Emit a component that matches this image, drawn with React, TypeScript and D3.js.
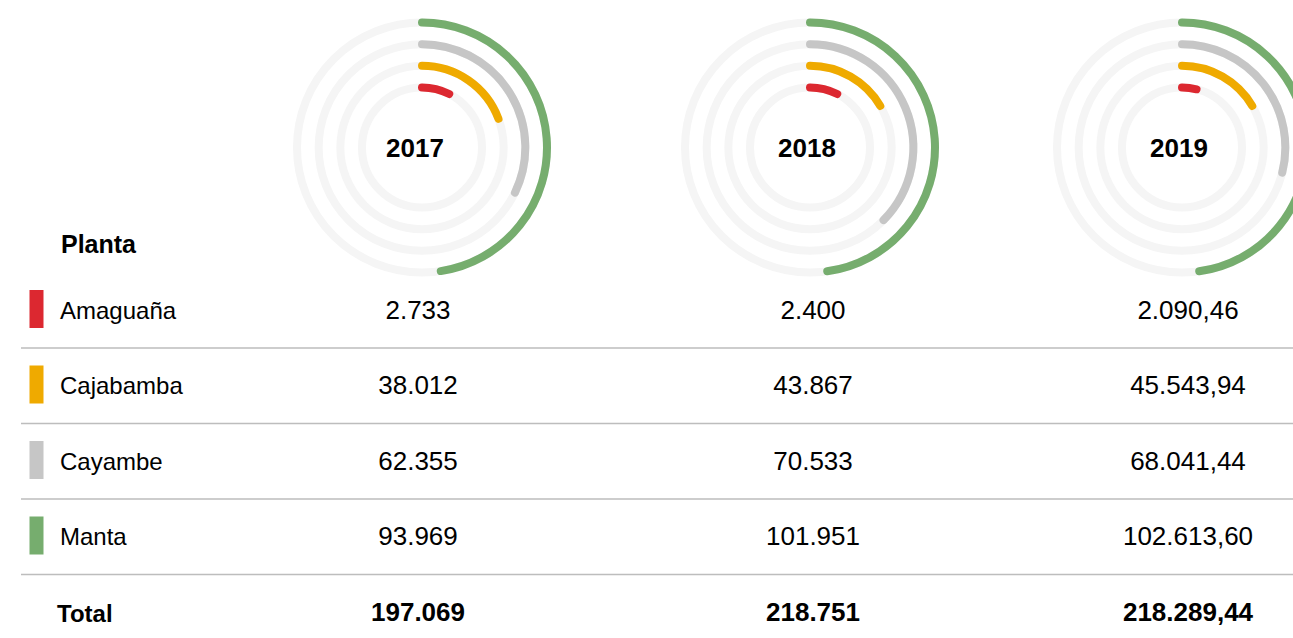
import React, { useRef, useEffect } from 'react';
import * as d3 from 'd3';

// plants, innermost ring first
const plants = ['Amaguaña', 'Cajabamba', 'Cayambe', 'Manta'];
const plantColors = ['#dc2830', '#efaa00', '#c6c6c6', '#76ad6e'];
const years = ['2017', '2018', '2019'];

// table values per year (same order as plants)
const values2017 = [2733, 38012, 62355, 93969];
const values2018 = [2400, 43867, 70533, 101951];
const values2019 = [2090.46, 45543.94, 68041.44, 102613.6];
const totals = [197069, 218751, 218289.44];
const decimals = [0, 0, 2];

// share of the full circle drawn by each ring (percent)
const share2017 = [7.5, 19.3, 32.2, 47.6];
const share2018 = [7.5, 16.5, 37.4, 47.8];
const share2019 = [3.9, 16.5, 28.9, 47.8];

const tableValues = [values2017, values2018, values2019];
const ringShares = [share2017, share2018, share2019];

export default function App() {
  const svgWidth = 1293;
  const svgHeight = 638;
  const ref = useRef<SVGSVGElement>(null);

  useEffect(() => {
    if (!ref.current) return;
    const svg = d3.select(ref.current);
    svg.selectAll('*').remove();

    const font = '"Liberation Sans", Arial, Helvetica, sans-serif';
    const locale = d3.formatLocale({ decimal: ',', thousands: '.', grouping: [3], currency: ['$', ''] });

    const ringCx = [422, 810, 1182];
    const labelDx = [-7, -3, -3];
    const colX = [418, 813, 1188];
    const cy = 147.5;

    const radius = d3.scaleLinear().domain([0, plants.length - 1]).range([60, 125]);
    const angle = d3.scaleLinear().domain([0, 100]).range([0, 2 * Math.PI]);

    years.forEach((year, yi) => {
      const g = svg.append('g').attr('transform', `translate(${ringCx[yi]},${cy})`);

      plants.forEach((p, pi) => {
        g.append('circle')
          .attr('r', radius(pi))
          .attr('fill', 'none')
          .attr('stroke', '#f5f5f5')
          .attr('stroke-width', 8);
      });

      plants.forEach((p, pi) => {
        const path = d3.path();
        const a = angle(ringShares[yi][pi]);
        path.arc(0, 0, radius(pi), -Math.PI / 2, a - Math.PI / 2);
        g.append('path')
          .attr('d', path.toString())
          .attr('fill', 'none')
          .attr('stroke', plantColors[pi])
          .attr('stroke-width', 8)
          .attr('stroke-linecap', 'round');
      });

      g.append('text')
        .attr('x', labelDx[yi])
        .attr('y', 9)
        .attr('text-anchor', 'middle')
        .style('font-family', font)
        .style('font-weight', 'bold')
        .style('font-size', '26px')
        .style('fill', '#000')
        .text(year);
    });

    // table
    const rowY = d3.scaleLinear().domain([0, 1]).range([309.5, 385]);
    const baseline = 9;

    svg.append('text')
      .attr('x', 61)
      .attr('y', 253)
      .style('font-family', font)
      .style('font-weight', 'bold')
      .style('font-size', '25px')
      .style('fill', '#000')
      .text('Planta');

    plants.forEach((p, pi) => {
      const y = rowY(pi);
      svg.append('rect')
        .attr('x', 29.5)
        .attr('y', y - 19.5)
        .attr('width', 14)
        .attr('height', 38)
        .attr('fill', plantColors[pi]);

      svg.append('text')
        .attr('x', 60)
        .attr('y', y + baseline)
        .style('font-family', font)
        .style('font-size', '24px')
        .style('fill', '#000')
        .text(p);

      years.forEach((year, yi) => {
        const fmt = locale.format(`,.${decimals[yi]}f`);
        svg.append('text')
          .attr('x', colX[yi])
          .attr('y', y + baseline)
          .attr('text-anchor', 'middle')
          .style('font-family', font)
          .style('font-size', '26px')
          .style('fill', '#000')
          .text(fmt(tableValues[yi][pi]));
      });

      svg.append('line')
        .attr('x1', 21)
        .attr('x2', svgWidth)
        .attr('y1', y + 38.5)
        .attr('y2', y + 38.5)
        .attr('stroke', '#bdbdbd')
        .attr('stroke-width', 1.5);
    });

    const totalY = rowY(plants.length) + baseline;
    svg.append('text')
      .attr('x', 57)
      .attr('y', totalY + 1)
      .style('font-family', font)
      .style('font-weight', 'bold')
      .style('font-size', '24px')
      .style('fill', '#000')
      .text('Total');

    years.forEach((year, yi) => {
      const fmt = locale.format(`,.${decimals[yi]}f`);
      svg.append('text')
        .attr('x', colX[yi])
        .attr('y', totalY)
        .attr('text-anchor', 'middle')
        .style('font-family', font)
        .style('font-weight', 'bold')
        .style('font-size', '26px')
        .style('fill', '#000')
        .text(fmt(totals[yi]));
    });
  }, []);

  return (
    <div style={{ position: 'absolute', left: 0, top: 0 }}>
      <svg ref={ref} width={svgWidth} height={svgHeight} style={{ display: 'block' }} />
    </div>
  );
}
